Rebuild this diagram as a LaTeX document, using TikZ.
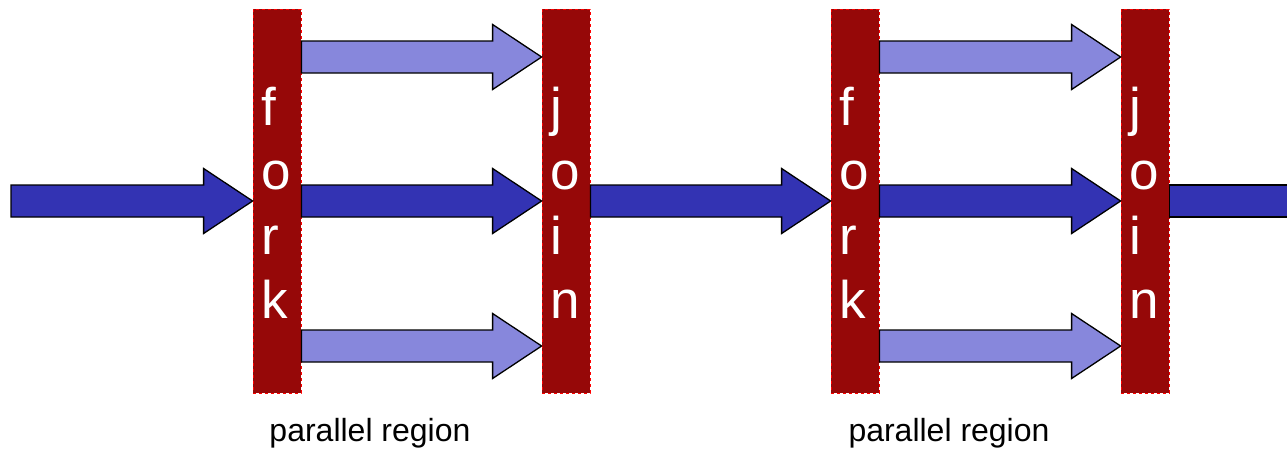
\documentclass[tikz,border=0pt]{standalone}
\usepackage{fontspec}
\setmainfont{Liberation Sans}
\usetikzlibrary{calc}
\definecolor{barred}{HTML}{960808}
\definecolor{mainblue}{HTML}{3333B3}
\definecolor{lightblue}{HTML}{8787DC}
\tikzset{
  bar/.style={draw=red, dashed, line width=0.8pt, fill=barred,
    minimum width=48pt, minimum height=384pt, inner sep=0pt},
  letter/.style={text=white, font=\fontsize{53}{64}\selectfont, anchor=base west, inner sep=0pt},
  mainflow/.style={draw=black, line width=1.3pt, fill=mainblue, line join=miter},
  sideflow/.style={draw=black, line width=1.3pt, fill=lightblue, line join=miter},
  caption/.style={font=\fontsize{32}{36}\selectfont, inner sep=0pt}
}
% block arrow from #2 to the tip #3
\newcommand\fatarrow[3]{%
  \draw[#1] ($(#2)+(0,-16)$) -- ($(#3)+(-49,-16)$) -- ($(#3)+(-49,-32.5)$)
    -- (#3) -- ($(#3)+(-49,32.5)$) -- ($(#3)+(-49,16)$) -- ($(#2)+(0,16)$) -- cycle;}
\begin{document}
\begin{tikzpicture}[x=1pt,y=-1pt]
\useasboundingbox (0,0) rectangle (1287,453);
\clip (0,0) rectangle (1287,453);

% fork and join bars
\foreach \n/\x in {fork1/277, join1/566, fork2/855, join2/1145}
  \node[bar] (\n) at (\x,201) {};

% letters on the bars, set flush left
\foreach \n in {fork1, fork2} {
  \foreach \c [count=\i] in {f,o,r,k}
    \node[letter] (\n-\i) at ($(\n.west)+(9,-76+64.5*\i-64.5)$) {\c};
}
\foreach \n in {join1, join2} {
  \foreach \c [count=\i] in {j,o,i,n}
    \node[letter] (\n-\i) at ($(\n.west)+(9,-76+64.5*\i-64.5)$) {\c};
}

\coordinate (in) at (11,201);
\coordinate (out) at (1300,201);

% sequential flow
\fatarrow{mainflow}{in}{fork1.west}
\fatarrow{mainflow}{fork1.east}{join1.west}
\fatarrow{mainflow}{join1.east}{fork2.west}
\fatarrow{mainflow}{fork2.east}{join2.west}
\draw[mainflow] ($(join2.east)+(0,-16)$) rectangle ($(out)+(0,16)$);

% parallel branches
\foreach \a/\b in {fork1/join1, fork2/join2} {
  \fatarrow{sideflow}{\a.east |- 0,57}{\b.west |- 0,57}
  \fatarrow{sideflow}{\a.east |- 0,346}{\b.west |- 0,346}
}

\node[caption] (cap1) at (370,433) {parallel region};
\node[caption] (cap2) at (949,433) {parallel region};
\end{tikzpicture}
\end{document}
